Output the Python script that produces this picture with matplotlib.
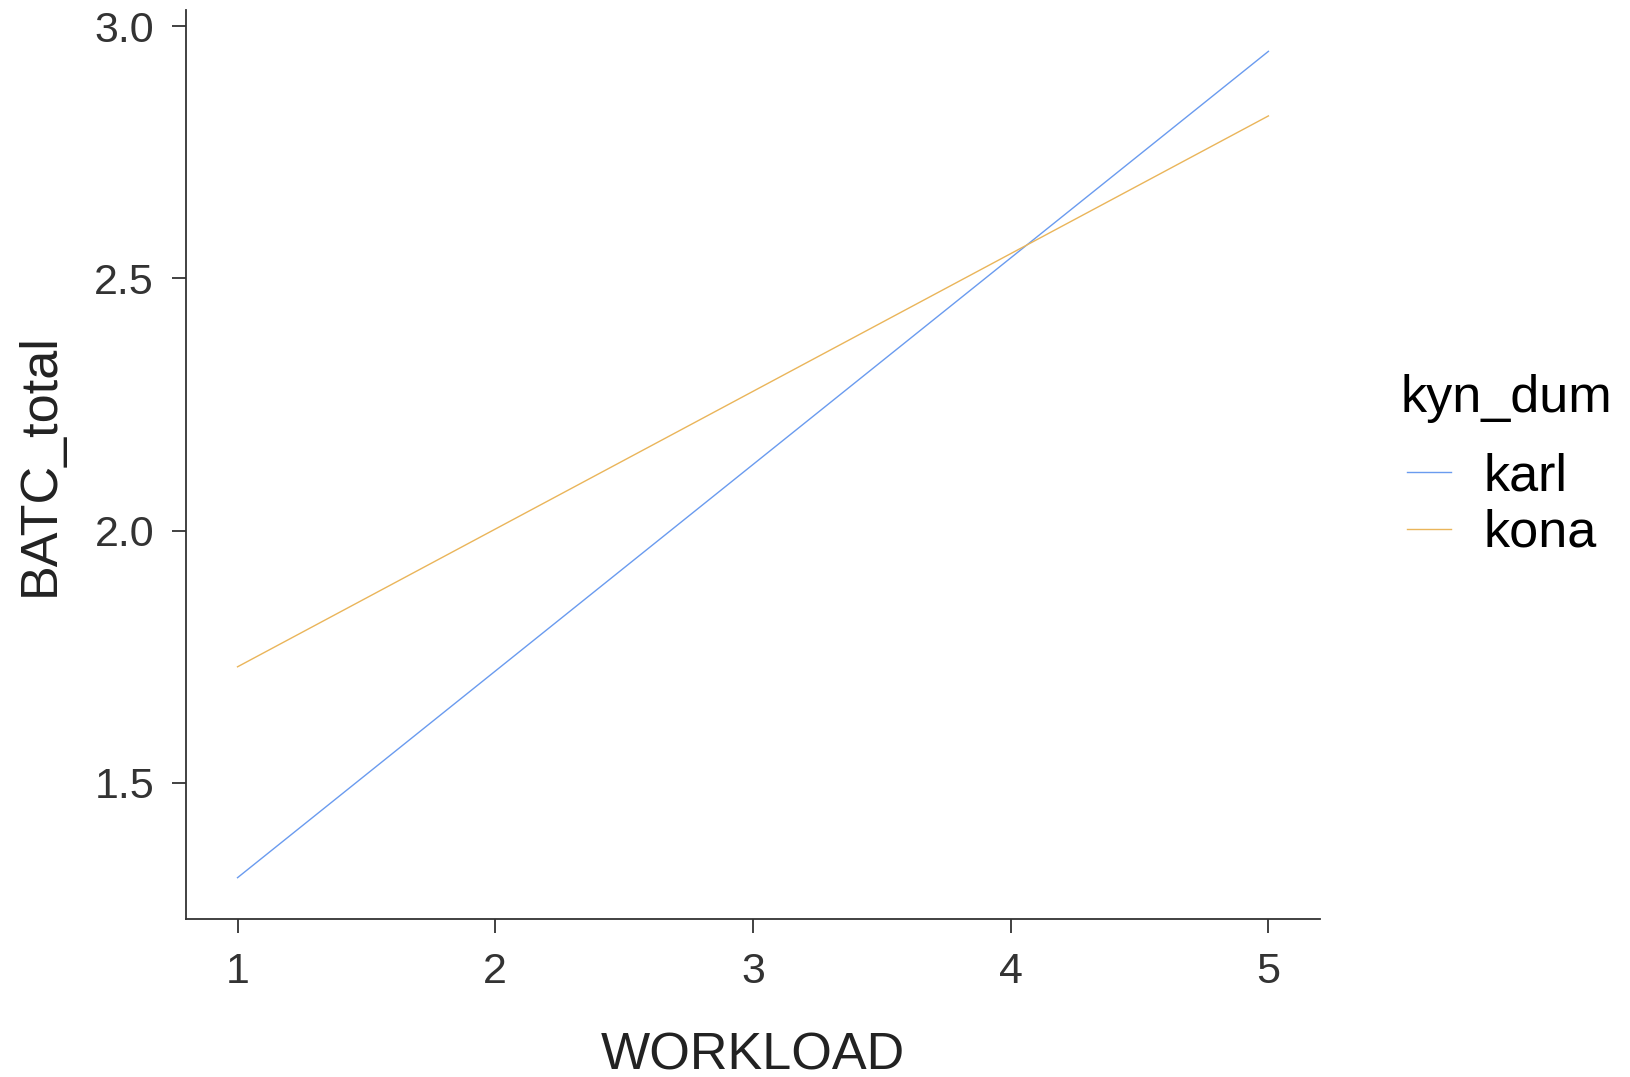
import matplotlib
matplotlib.use("Agg")
import matplotlib.pyplot as plt
import numpy as np

# ── Data (fitted lines) ──────────────────────────────────────────────────────
workload = [1, 5]
karl = [1.312, 2.950]
kona = [1.730, 2.822]
groups = ["karl", "kona"]
colors = {"karl": "#6A9BEF", "kona": "#EAB55A"}

x_ticks = [1, 2, 3, 4, 5]
y_ticks = [1.5, 2.0, 2.5, 3.0]

plt.rcParams["font.family"] = ["Liberation Sans", "DejaVu Sans"]

# ── Plot ─────────────────────────────────────────────────────────────────────
fig = plt.figure(figsize=(16.3, 10.77), dpi=100)
ax = fig.add_axes([0.1141, 0.1467, 0.6957, 0.8440])

for name, vals in zip(groups, [karl, kona]):
    ax.plot(workload, vals, color=colors[name], linewidth=1.0, label=name)

# ggplot-style 5% expansion
xr = max(workload) - min(workload)
ax.set_xlim(min(workload) - 0.05 * xr, max(workload) + 0.05 * xr)
ymin = min(karl + kona)
ymax = max(karl + kona)
yr = ymax - ymin
ax.set_ylim(ymin - 0.05 * yr, ymax + 0.05 * yr)

ax.set_xticks(x_ticks)
ax.set_xticklabels([str(v) for v in x_ticks])
ax.set_yticks(y_ticks)
ax.set_yticklabels([f"{v:.1f}" for v in y_ticks])

ax.tick_params(axis="both", length=10, width=1.3, color="#333333",
               labelsize=31, labelcolor="#333333")
ax.tick_params(axis="x", pad=14)
ax.tick_params(axis="y", pad=13)

for side in ["top", "right"]:
    ax.spines[side].set_visible(False)
for side in ["left", "bottom"]:
    ax.spines[side].set_linewidth(1.3)
    ax.spines[side].set_color("#333333")

ax.set_xlabel("WORKLOAD", fontsize=37.5, color="#222222", labelpad=28)
ax.set_ylabel("BATC_total", fontsize=37.5, color="#222222", labelpad=21.5)

# legend (ggplot-like: title on top, keys slightly indented)
leg = fig.legend(loc="center left", bbox_to_anchor=(0.843, 0.564),
                 frameon=False, fontsize=37.5, title="kyn_dum",
                 title_fontsize=37.5, handlelength=0.85, handletextpad=0.62,
                 labelspacing=0.14, borderpad=0.0)
leg._legend_box.align = "left"
leg._legend_box.sep = 16
leg._legend_handle_box.pad = 5

fig.savefig("out.png", dpi=100)
